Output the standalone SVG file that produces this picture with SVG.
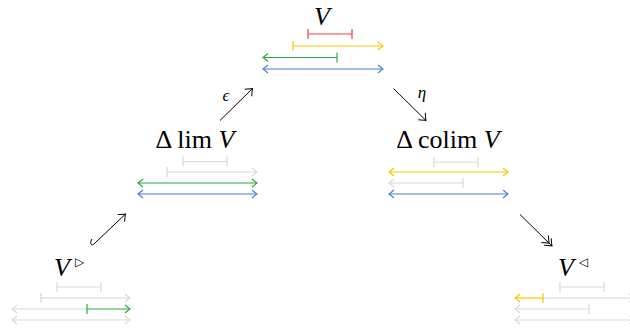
<svg xmlns="http://www.w3.org/2000/svg" width="630" height="333" viewBox="0 0 630 333">
<style>
.m{font-family:"Liberation Serif","DejaVu Serif",serif;font-size:26px;fill:#000}
.i{font-style:italic}
.lab{font-family:"Liberation Serif","DejaVu Serif",serif;font-style:italic;font-size:17px}
.tri{font-family:"DejaVu Sans",sans-serif;font-size:12px}
.ln{fill:none;stroke-width:1.2}
.r{stroke:#f04040}.y{stroke:#f8c500}.g{stroke:#2ea83a}.b{stroke:#4a7fc7}.k{stroke:#d8d8d8}
.bk{fill:none;stroke:#000;stroke-width:1}
</style>
<defs>
<marker id="aY" viewBox="-7 -6 9 12" refX="0" refY="0" markerWidth="9" markerHeight="12" markerUnits="userSpaceOnUse" orient="auto-start-reverse"><path d="M-5,-4 Q-1.5,-1 0,0 Q-1.5,1 -5,4" fill="none" stroke="#f8c500" stroke-width="1.1"/></marker>
<marker id="aG" viewBox="-7 -6 9 12" refX="0" refY="0" markerWidth="9" markerHeight="12" markerUnits="userSpaceOnUse" orient="auto-start-reverse"><path d="M-5,-4 Q-1.5,-1 0,0 Q-1.5,1 -5,4" fill="none" stroke="#2ea83a" stroke-width="1.1"/></marker>
<marker id="aB" viewBox="-7 -6 9 12" refX="0" refY="0" markerWidth="9" markerHeight="12" markerUnits="userSpaceOnUse" orient="auto-start-reverse"><path d="M-5,-4 Q-1.5,-1 0,0 Q-1.5,1 -5,4" fill="none" stroke="#4a7fc7" stroke-width="1.1"/></marker>
<marker id="aK" viewBox="-7 -6 9 12" refX="0" refY="0" markerWidth="9" markerHeight="12" markerUnits="userSpaceOnUse" orient="auto-start-reverse"><path d="M-5,-4 Q-1.5,-1 0,0 Q-1.5,1 -5,4" fill="none" stroke="#d8d8d8" stroke-width="1.1"/></marker>
<marker id="aX" viewBox="-8 -6 10 12" refX="0" refY="0" markerWidth="10" markerHeight="12" markerUnits="userSpaceOnUse" orient="auto"><path d="M-6,-5 Q-1.5,-1 0,0 Q-1.5,1 -6,5" fill="none" stroke="#000" stroke-width="1"/></marker>
<marker id="aXX" viewBox="-12 -6 14 12" refX="0" refY="0" markerWidth="14" markerHeight="12" markerUnits="userSpaceOnUse" orient="auto"><path d="M-6,-5 Q-1.5,-1 0,0 Q-1.5,1 -6,5 M-10,-5 Q-5.5,-1 -4,0 Q-5.5,1 -10,5" fill="none" stroke="#000" stroke-width="1"/></marker>
<marker id="tR" viewBox="-2 -6 4 12" refX="0" refY="0" markerWidth="4" markerHeight="12" markerUnits="userSpaceOnUse" orient="auto"><path d="M0,-5 V5" stroke="#f04040" stroke-width="1.2"/></marker>
<marker id="tY" viewBox="-2 -6 4 12" refX="0" refY="0" markerWidth="4" markerHeight="12" markerUnits="userSpaceOnUse" orient="auto"><path d="M0,-5 V5" stroke="#f8c500" stroke-width="1.2"/></marker>
<marker id="tG" viewBox="-2 -6 4 12" refX="0" refY="0" markerWidth="4" markerHeight="12" markerUnits="userSpaceOnUse" orient="auto"><path d="M0,-5 V5" stroke="#2ea83a" stroke-width="1.2"/></marker>
<marker id="tK" viewBox="-2 -6 4 12" refX="0" refY="0" markerWidth="4" markerHeight="12" markerUnits="userSpaceOnUse" orient="auto"><path d="M0,-5 V5" stroke="#d8d8d8" stroke-width="1.2"/></marker>
</defs>

<g id="node-V">
<text class="m i" x="322" y="25" text-anchor="middle">V</text>
<path class="ln r" d="M308,34 H352" marker-start="url(#tR)" marker-end="url(#tR)"/>
<path class="ln y" d="M293,46 H383" marker-start="url(#tY)" marker-end="url(#aY)"/>
<path class="ln g" d="M263,57.5 H337" marker-start="url(#aG)" marker-end="url(#tG)"/>
<path class="ln b" d="M263,69 H383" marker-start="url(#aB)" marker-end="url(#aB)"/>
</g>

<g id="node-limV">
<text class="m" x="195" y="148" text-anchor="middle">Δ lim <tspan class="i">V</tspan></text>
<path class="ln k" d="M183,161.5 H227" marker-start="url(#tK)" marker-end="url(#tK)"/>
<path class="ln k" d="M167,172 H257" marker-start="url(#tK)" marker-end="url(#aK)"/>
<path class="ln g" d="M138,183 H257" marker-start="url(#aG)" marker-end="url(#aG)"/>
<path class="ln b" d="M138,194 H257" marker-start="url(#aB)" marker-end="url(#aB)"/>
</g>

<g id="node-colimV">
<text class="m" x="448" y="148" text-anchor="middle">Δ colim <tspan class="i">V</tspan></text>
<path class="ln k" d="M434,162 H478" marker-start="url(#tK)" marker-end="url(#tK)"/>
<path class="ln y" d="M389,172 H508" marker-start="url(#aY)" marker-end="url(#aY)"/>
<path class="ln k" d="M389,183 H463" marker-start="url(#aK)" marker-end="url(#tK)"/>
<path class="ln b" d="M389,194 H508" marker-start="url(#aB)" marker-end="url(#aB)"/>
</g>

<g id="node-Vright">
<text class="m i" x="54" y="276">V</text>
<text class="tri" x="75" y="266">▷</text>
<path class="ln k" d="M57,287 H101" marker-start="url(#tK)" marker-end="url(#tK)"/>
<path class="ln k" d="M41,298 H130" marker-start="url(#tK)" marker-end="url(#aK)"/>
<path class="ln k" d="M12,309 H87" marker-start="url(#aK)"/>
<path class="ln g" d="M87,309 H130" marker-start="url(#tG)" marker-end="url(#aG)"/>
<path class="ln k" d="M12,320 H130" marker-start="url(#aK)" marker-end="url(#aK)"/>
</g>

<g id="node-Vleft">
<text class="m i" x="558" y="276">V</text>
<text class="tri" x="579" y="266">◁</text>
<path class="ln k" d="M560,287 H604" marker-start="url(#tK)" marker-end="url(#tK)"/>
<path class="ln k" d="M543,298 H634" marker-end="url(#aK)"/>
<path class="ln y" d="M515,298 H543" marker-start="url(#aY)" marker-end="url(#tY)"/>
<path class="ln k" d="M515,309 H589" marker-start="url(#aK)" marker-end="url(#tK)"/>
<path class="ln k" d="M515,320 H634" marker-start="url(#aK)" marker-end="url(#aK)"/>
</g>

<g id="connectors">
<path class="bk" d="M220,120.5 L252.5,88.5" marker-end="url(#aX)"/>
<text class="lab" x="226" y="101" text-anchor="middle">ϵ</text>
<path class="bk" d="M393.5,88.5 L426,120.5" marker-end="url(#aX)"/>
<text class="lab" x="422" y="98" text-anchor="middle">η</text>
<path class="bk" d="M95,243 L125.5,214" marker-end="url(#aX)"/>
<path class="bk" d="M95,243 Q92,246.5 90.8,243.5 Q90.3,241 92,239"/>
<path class="bk" d="M520,214.5 L552,246" marker-end="url(#aXX)"/>
</g>
</svg>
